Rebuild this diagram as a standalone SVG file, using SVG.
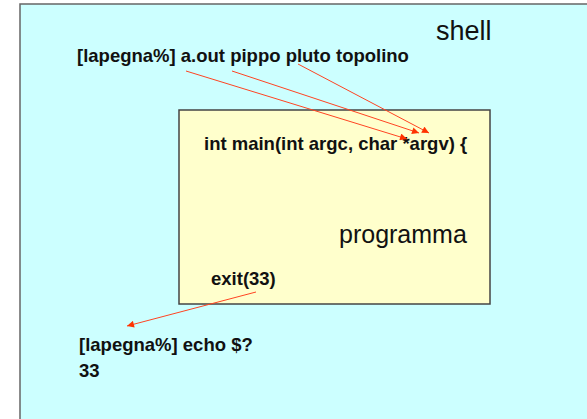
<svg xmlns="http://www.w3.org/2000/svg" width="587" height="419" viewBox="0 0 587 419">
  <style>
    .code { font-family: "Liberation Sans", Arial, sans-serif; font-weight: bold; font-size: 18.5px; fill: #111; }
    .title { font-family: "Liberation Sans", Arial, sans-serif; font-size: 25px; fill: #111; }
    .link { stroke: #FF4422; stroke-width: 1; fill: none; marker-end: url(#head); }
  </style>
  <defs>
    <marker id="head" viewBox="0 0 10 10" refX="10" refY="5" markerWidth="8" markerHeight="7" markerUnits="userSpaceOnUse" orient="auto">
      <path d="M0,0 L10,5 L0,10 z" fill="#FF3300"/>
    </marker>
  </defs>
  <rect x="0" y="0" width="587" height="419" fill="#FFFFFF"/>

  <!-- shell area -->
  <g id="shell">
    <rect x="20" y="4" width="600" height="440" fill="#CCFFFF" stroke="#666666" stroke-width="1.5"/>
    <text class="title" x="436" y="40" style="font-size:27px">shell</text>
    <text class="code" x="77" y="62">[lapegna%] a.out pippo pluto topolino</text>
    <text class="code" x="79" y="351">[lapegna%] echo $?</text>
    <text class="code" x="79" y="377">33</text>
  </g>

  <!-- program box -->
  <g id="programma">
    <rect x="179" y="110" width="311" height="194" fill="#FFFFCC" stroke="#444444" stroke-width="1.5"/>
    <text class="code" x="204" y="150">int main(int argc, char *argv) {</text>
    <text class="title" x="339" y="243">programma</text>
    <text class="code" x="211" y="285">exit(33)</text>
  </g>

  <!-- connectors -->
  <g id="connectors">
    <line class="link" x1="186" y1="71" x2="407" y2="139"/>
    <line class="link" x1="232" y1="71" x2="419" y2="133"/>
    <line class="link" x1="298" y1="64" x2="429" y2="133"/>
    <line class="link" x1="256" y1="292" x2="127" y2="326"/>
  </g>
</svg>
